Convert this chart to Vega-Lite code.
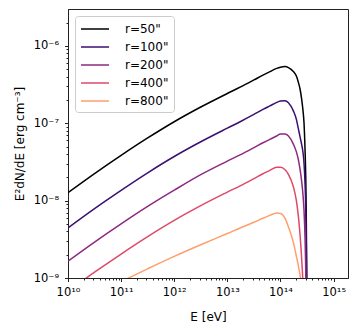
{
  "$schema": "https://vega.github.io/schema/vega-lite/v6.json",
  "width": 280,
  "height": 269,
  "autosize": {"type": "none"},
  "padding": {"left": 68, "top": 9, "right": 9, "bottom": 51},
  "background": "white",
  "config": {
    "font": "DejaVu Sans",
    "view": {"stroke": "#222222", "strokeWidth": 1},
    "axis": {
      "grid": false,
      "domainColor": "#222222",
      "tickColor": "#222222",
      "labelColor": "black",
      "titleColor": "black",
      "labelFont": "DejaVu Sans",
      "titleFont": "DejaVu Sans",
      "labelFontSize": 11.5,
      "titleFontSize": 12,
      "titleFontWeight": "normal",
      "labelOverlap": false,
      "labelFlush": false
    },
    "legend": {
      "orient": "top-left",
      "offset": 7,
      "padding": 5,
      "rowPadding": 4,
      "symbolType": "M-2,0H2",
      "symbolSize": 196,
      "symbolStrokeWidth": 1.5,
      "symbolOffset": 7,
      "labelOffset": 22,
      "labelFontSize": 12,
      "labelFont": "DejaVu Sans",
      "labelColor": "black",
      "strokeColor": "#cccccc",
      "fillColor": "white",
      "cornerRadius": 3
    }
  },
  "data": {"values": [
    {"r": "r=50\"", "E": 1e10, "y": 1.268e-8},
    {"r": "r=50\"", "E": 3.162e10, "y": 2.239e-8},
    {"r": "r=50\"", "E": 1e11, "y": 3.846e-8},
    {"r": "r=50\"", "E": 3.162e11, "y": 6.457e-8},
    {"r": "r=50\"", "E": 1e12, "y": 1.047e-7},
    {"r": "r=50\"", "E": 3.162e12, "y": 1.622e-7},
    {"r": "r=50\"", "E": 1e13, "y": 2.427e-7},
    {"r": "r=50\"", "E": 1.778e13, "y": 2.951e-7},
    {"r": "r=50\"", "E": 3.162e13, "y": 3.631e-7},
    {"r": "r=50\"", "E": 4.786e13, "y": 4.227e-7},
    {"r": "r=50\"", "E": 6.31e13, "y": 4.645e-7},
    {"r": "r=50\"", "E": 8.511e13, "y": 5.129e-7},
    {"r": "r=50\"", "E": 1e14, "y": 5.309e-7},
    {"r": "r=50\"", "E": 1.222e14, "y": 5.408e-7},
    {"r": "r=50\"", "E": 1.413e14, "y": 5.248e-7},
    {"r": "r=50\"", "E": 1.75e14, "y": 4.667e-7},
    {"r": "r=50\"", "E": 1.995e14, "y": 4.074e-7},
    {"r": "r=50\"", "E": 2.173e14, "y": 3.388e-7},
    {"r": "r=50\"", "E": 2.344e14, "y": 2.754e-7},
    {"r": "r=50\"", "E": 2.518e14, "y": 2.009e-7},
    {"r": "r=50\"", "E": 2.661e14, "y": 1.445e-7},
    {"r": "r=50\"", "E": 2.78e14, "y": 1.002e-7},
    {"r": "r=50\"", "E": 2.904e14, "y": 4.529e-8},
    {"r": "r=50\"", "E": 2.985e14, "y": 2.239e-8},
    {"r": "r=50\"", "E": 3.055e14, "y": 7.943e-9},
    {"r": "r=50\"", "E": 3.126e14, "y": 1e-9},
    {"r": "r=50\"", "E": 3.199e14, "y": 1e-10},

    {"r": "r=100\"", "E": 1e10, "y": 4.45e-9},
    {"r": "r=100\"", "E": 3.162e10, "y": 7.9e-9},
    {"r": "r=100\"", "E": 1e11, "y": 1.36e-8},
    {"r": "r=100\"", "E": 3.162e11, "y": 2.29e-8},
    {"r": "r=100\"", "E": 1e12, "y": 3.72e-8},
    {"r": "r=100\"", "E": 3.162e12, "y": 5.77e-8},
    {"r": "r=100\"", "E": 1e13, "y": 8.65e-8},
    {"r": "r=100\"", "E": 1.778e13, "y": 1.055e-7},
    {"r": "r=100\"", "E": 3.162e13, "y": 1.3e-7},
    {"r": "r=100\"", "E": 4.786e13, "y": 1.52e-7},
    {"r": "r=100\"", "E": 6.31e13, "y": 1.675e-7},
    {"r": "r=100\"", "E": 8.511e13, "y": 1.86e-7},
    {"r": "r=100\"", "E": 1e14, "y": 1.935e-7},
    {"r": "r=100\"", "E": 1.222e14, "y": 1.96e-7},
    {"r": "r=100\"", "E": 1.413e14, "y": 1.841e-7},
    {"r": "r=100\"", "E": 1.75e14, "y": 1.445e-7},
    {"r": "r=100\"", "E": 1.995e14, "y": 1.122e-7},
    {"r": "r=100\"", "E": 2.173e14, "y": 8.511e-8},
    {"r": "r=100\"", "E": 2.344e14, "y": 6.607e-8},
    {"r": "r=100\"", "E": 2.518e14, "y": 5.248e-8},
    {"r": "r=100\"", "E": 2.661e14, "y": 4.169e-8},
    {"r": "r=100\"", "E": 2.78e14, "y": 3.02e-8},
    {"r": "r=100\"", "E": 2.904e14, "y": 1.66e-8},
    {"r": "r=100\"", "E": 2.985e14, "y": 8.913e-9},
    {"r": "r=100\"", "E": 3.055e14, "y": 3.548e-9},
    {"r": "r=100\"", "E": 3.126e14, "y": 7.079e-10},
    {"r": "r=100\"", "E": 3.199e14, "y": 1e-10},

    {"r": "r=200\"", "E": 1e10, "y": 1.652e-9},
    {"r": "r=200\"", "E": 3.162e10, "y": 2.917e-9},
    {"r": "r=200\"", "E": 1e11, "y": 5.011e-9},
    {"r": "r=200\"", "E": 3.162e11, "y": 8.413e-9},
    {"r": "r=200\"", "E": 1e12, "y": 1.364e-8},
    {"r": "r=200\"", "E": 3.162e12, "y": 2.164e-8},
    {"r": "r=200\"", "E": 1e13, "y": 3.238e-8},
    {"r": "r=200\"", "E": 1.778e13, "y": 3.937e-8},
    {"r": "r=200\"", "E": 3.162e13, "y": 4.844e-8},
    {"r": "r=200\"", "E": 4.786e13, "y": 5.639e-8},
    {"r": "r=200\"", "E": 6.31e13, "y": 6.196e-8},
    {"r": "r=200\"", "E": 8.511e13, "y": 6.842e-8},
    {"r": "r=200\"", "E": 1e14, "y": 7.244e-8},
    {"r": "r=200\"", "E": 1.222e14, "y": 7.244e-8},
    {"r": "r=200\"", "E": 1.413e14, "y": 6.839e-8},
    {"r": "r=200\"", "E": 1.75e14, "y": 5.37e-8},
    {"r": "r=200\"", "E": 1.995e14, "y": 4.266e-8},
    {"r": "r=200\"", "E": 2.173e14, "y": 3.388e-8},
    {"r": "r=200\"", "E": 2.344e14, "y": 2.512e-8},
    {"r": "r=200\"", "E": 2.518e14, "y": 1.738e-8},
    {"r": "r=200\"", "E": 2.661e14, "y": 1.175e-8},
    {"r": "r=200\"", "E": 2.78e14, "y": 7.413e-9},
    {"r": "r=200\"", "E": 2.904e14, "y": 3.311e-9},
    {"r": "r=200\"", "E": 2.985e14, "y": 1.413e-9},
    {"r": "r=200\"", "E": 3.055e14, "y": 3.981e-10},

    {"r": "r=400\"", "E": 1e10, "y": 6.732e-10},
    {"r": "r=400\"", "E": 3.162e10, "y": 1.189e-9},
    {"r": "r=400\"", "E": 1e11, "y": 2.042e-9},
    {"r": "r=400\"", "E": 3.162e11, "y": 3.428e-9},
    {"r": "r=400\"", "E": 1e12, "y": 5.558e-9},
    {"r": "r=400\"", "E": 3.162e12, "y": 8.611e-9},
    {"r": "r=400\"", "E": 1e13, "y": 1.288e-8},
    {"r": "r=400\"", "E": 1.778e13, "y": 1.567e-8},
    {"r": "r=400\"", "E": 3.162e13, "y": 1.928e-8},
    {"r": "r=400\"", "E": 4.786e13, "y": 2.244e-8},
    {"r": "r=400\"", "E": 6.31e13, "y": 2.466e-8},
    {"r": "r=400\"", "E": 8.511e13, "y": 2.692e-8},
    {"r": "r=400\"", "E": 1e14, "y": 2.692e-8},
    {"r": "r=400\"", "E": 1.222e14, "y": 2.512e-8},
    {"r": "r=400\"", "E": 1.413e14, "y": 2.188e-8},
    {"r": "r=400\"", "E": 1.75e14, "y": 1.514e-8},
    {"r": "r=400\"", "E": 1.995e14, "y": 1e-8},
    {"r": "r=400\"", "E": 2.173e14, "y": 6.31e-9},
    {"r": "r=400\"", "E": 2.344e14, "y": 3.548e-9},
    {"r": "r=400\"", "E": 2.518e14, "y": 1.698e-9},
    {"r": "r=400\"", "E": 2.661e14, "y": 7.943e-10},
    {"r": "r=400\"", "E": 2.78e14, "y": 2.512e-10},

    {"r": "r=800\"", "E": 3.162e10, "y": 5.754e-10},
    {"r": "r=800\"", "E": 1e11, "y": 8.913e-10},
    {"r": "r=800\"", "E": 3.162e11, "y": 1.318e-9},
    {"r": "r=800\"", "E": 1e12, "y": 1.905e-9},
    {"r": "r=800\"", "E": 3.162e12, "y": 2.692e-9},
    {"r": "r=800\"", "E": 1e13, "y": 3.758e-9},
    {"r": "r=800\"", "E": 1.778e13, "y": 4.467e-9},
    {"r": "r=800\"", "E": 3.162e13, "y": 5.248e-9},
    {"r": "r=800\"", "E": 4.786e13, "y": 5.957e-9},
    {"r": "r=800\"", "E": 6.31e13, "y": 6.457e-9},
    {"r": "r=800\"", "E": 8.511e13, "y": 6.918e-9},
    {"r": "r=800\"", "E": 1e14, "y": 6.839e-9},
    {"r": "r=800\"", "E": 1.222e14, "y": 5.888e-9},
    {"r": "r=800\"", "E": 1.413e14, "y": 4.571e-9},
    {"r": "r=800\"", "E": 1.75e14, "y": 2.884e-9},
    {"r": "r=800\"", "E": 1.995e14, "y": 1.905e-9},
    {"r": "r=800\"", "E": 2.173e14, "y": 1.445e-9},
    {"r": "r=800\"", "E": 2.344e14, "y": 1.072e-9},
    {"r": "r=800\"", "E": 2.518e14, "y": 7.079e-10},
    {"r": "r=800\"", "E": 2.661e14, "y": 3.981e-10}
  ]},
  "mark": {"type": "line", "clip": true, "strokeWidth": 1.5, "interpolate": "monotone"},
  "encoding": {
    "x": {
      "field": "E", "type": "quantitative",
      "scale": {"type": "log", "domain": [1e10, 1.87e15], "nice": false},
      "axis": {
        "title": "E [eV]",
        "titlePadding": 13,
        "labelPadding": 5,
        "values": [1e10,2e10,3e10,4e10,5e10,6e10,7e10,8e10,9e10,1e11,2e11,3e11,4e11,5e11,6e11,7e11,8e11,9e11,1e12,2e12,3e12,4e12,5e12,6e12,7e12,8e12,9e12,1e13,2e13,3e13,4e13,5e13,6e13,7e13,8e13,9e13,1e14,2e14,3e14,4e14,5e14,6e14,7e14,8e14,9e14,1e15],
        "labelExpr": "abs(log(datum.value)/LN10 - round(log(datum.value)/LN10)) < 0.001 ? ['10¹⁰','10¹¹','10¹²','10¹³','10¹⁴','10¹⁵'][round(log(datum.value)/LN10)-10] : ''",
        "tickSize": {"condition": {"test": "abs(log(datum.value)/LN10 - round(log(datum.value)/LN10)) < 0.001", "value": 3.5}, "value": 2}
      }
    },
    "y": {
      "field": "y", "type": "quantitative",
      "scale": {"type": "log", "domain": [1e-9, 3e-6], "nice": false},
      "axis": {
        "title": "E²dN/dE [erg cm⁻³]",
        "titlePadding": 7,
        "labelPadding": 6,
        "values": [1e-9,2e-9,3e-9,4e-9,5e-9,6e-9,7e-9,8e-9,9e-9,1e-8,2e-8,3e-8,4e-8,5e-8,6e-8,7e-8,8e-8,9e-8,1e-7,2e-7,3e-7,4e-7,5e-7,6e-7,7e-7,8e-7,9e-7,1e-6,2e-6],
        "labelExpr": "abs(log(datum.value)/LN10 - round(log(datum.value)/LN10)) < 0.001 ? ['10⁻⁹','10⁻⁸','10⁻⁷','10⁻⁶'][round(log(datum.value)/LN10)+9] : ''",
        "tickSize": {"condition": {"test": "abs(log(datum.value)/LN10 - round(log(datum.value)/LN10)) < 0.001", "value": 3.5}, "value": 2}
      }
    },
    "color": {
      "field": "r", "type": "nominal",
      "scale": {"domain": ["r=50\"", "r=100\"", "r=200\"", "r=400\"", "r=800\""], "range": ["#000004", "#3b0f70", "#8c2981", "#de4968", "#fe9f6d"]},
      "legend": {"title": null}
    }
  }
}
